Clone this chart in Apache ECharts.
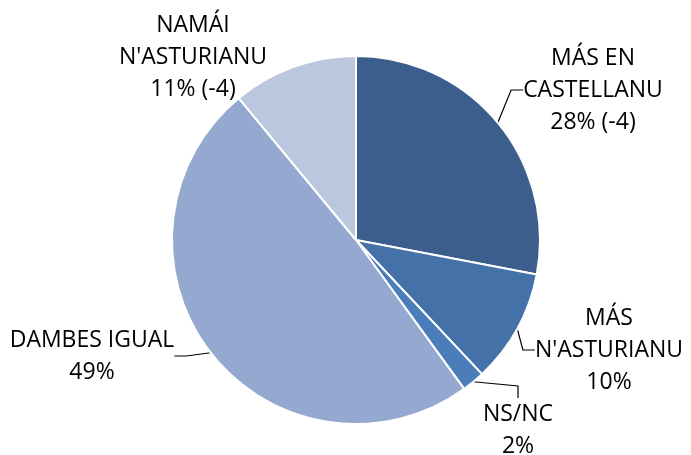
<!DOCTYPE html>
<html>
<head>
<meta charset="utf-8">
<script src="https://cdn.jsdelivr.net/npm/echarts@6/dist/echarts.min.js"></script>
<style>
  html, body { margin: 0; padding: 0; background: #fff; }
  #chart { width: 691px; height: 455px; }
</style>
</head>
<body>
<div id="chart"></div>
<script>
// categories and values (clockwise from 12 o'clock)
var categories = ['MÁS EN\nCASTELLANU', 'MÁS\nN\'ASTURIANU', 'NS/NC', 'DAMBES IGUAL', 'NAMÁI\nN\'ASTURIANU'];
var values = [28, 10, 2, 49, 11];
var changes = ['(-4)', '', '', '', '(-4)'];
var colors = ['#3B5E8C', '#4472A8', '#4A7DBA', '#95A8CF', '#BAC7DF'];

// where each label sits
var labelPos = [[593, 90], [609, 350], [518, 430], [92, 356], [193, 57]];

var data = categories.map(function (c, i) {
  var d = { name: c, value: values[i], itemStyle: { color: colors[i] } };
  if (i === 4) d.labelLine = { show: false };
  return d;
});

var chart = echarts.init(document.getElementById('chart'));
chart.setOption({
  animation: false,
  series: [{
    type: 'pie',
    center: [356, 240],
    radius: 184,
    startAngle: 90,
    clockwise: true,
    itemStyle: { borderColor: '#fff', borderWidth: 2 },
    label: {
      show: true,
      color: '#000',
      fontFamily: 'Open Sans',
      fontSize: 23,
      lineHeight: 32,
      align: 'center',
      overflow: 'none',
      formatter: function (p) {
        var ch = changes[p.dataIndex];
        return p.name + '\n' + p.value + '%' + (ch ? ' ' + ch : '');
      }
    },
    labelLine: {
      show: true,
      length: 12,
      length2: 12,
      lineStyle: { color: '#000', width: 1.2 }
    },
    labelLayout: function (p) {
      var pos = labelPos[p.dataIndex];
      return { x: pos[0], y: pos[1], align: 'center', verticalAlign: 'middle' };
    },
    data: data
  }]
});
</script>
</body>
</html>
